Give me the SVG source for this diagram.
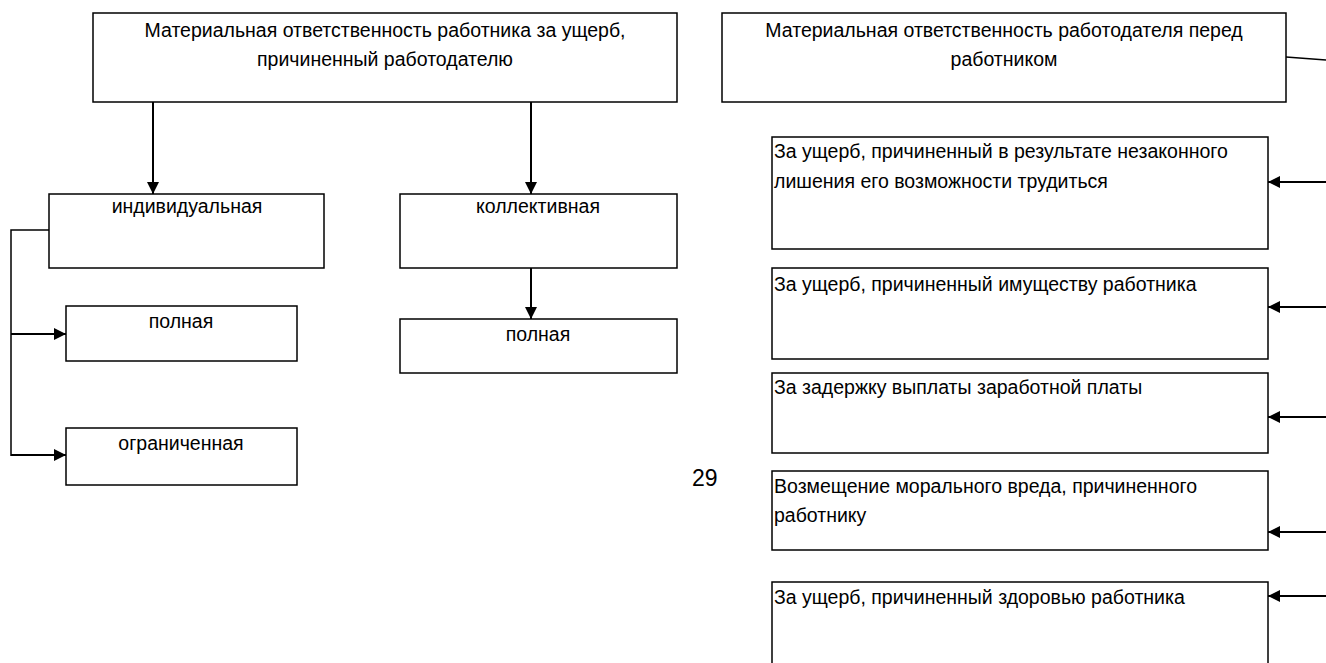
<svg xmlns="http://www.w3.org/2000/svg" width="1326" height="663" viewBox="0 0 1326 663">
<style>
.box{fill:#fff;stroke:#000;stroke-width:1.5}
.t{font-family:"Liberation Sans",Arial,sans-serif;font-size:19.5px;fill:#000}
.c{text-anchor:middle}
.ln{fill:none;stroke:#000;stroke-width:2}
.thin{fill:none;stroke:#000;stroke-width:1.5}
</style>
<defs>
<marker id="ah" viewBox="0 0 10 10" refX="10" refY="5" markerWidth="6" markerHeight="6" markerUnits="strokeWidth" orient="auto">
<path d="M0,0 L10,5 L0,10 Z" fill="#000"/>
</marker>
</defs>
<rect width="1326" height="663" fill="#fff"/>
<g id="connectors">
<line class="ln" x1="153" y1="102" x2="153" y2="194" marker-end="url(#ah)"/>
<line class="ln" x1="531" y1="102" x2="531" y2="194" marker-end="url(#ah)"/>
<polyline class="thin" points="49,230 11,230 11,456"/>
<line class="ln" x1="11" y1="334" x2="66" y2="334" marker-end="url(#ah)"/>
<line class="ln" x1="11" y1="455" x2="66" y2="455" marker-end="url(#ah)"/>
<line class="ln" x1="531" y1="268" x2="531" y2="319" marker-end="url(#ah)"/>
<line class="thin" x1="1286" y1="57" x2="1326" y2="60"/>
<line class="ln" x1="1326" y1="182" x2="1268" y2="182" marker-end="url(#ah)"/>
<line class="ln" x1="1326" y1="307" x2="1268" y2="307" marker-end="url(#ah)"/>
<line class="ln" x1="1326" y1="417" x2="1268" y2="417" marker-end="url(#ah)"/>
<line class="ln" x1="1326" y1="532" x2="1268" y2="532" marker-end="url(#ah)"/>
<line class="ln" x1="1326" y1="596" x2="1268" y2="596" marker-end="url(#ah)"/>
</g>
<g id="n-worker">
<rect class="box" x="93" y="13" width="584" height="89"/>
<text class="t c" x="385" y="37">Материальная ответственность работника за ущерб,</text>
<text class="t c" x="385" y="66">причиненный работодателю</text>
</g>
<g id="n-individual">
<rect class="box" x="49" y="194" width="275" height="74"/>
<text class="t c" x="187" y="213">индивидуальная</text>
</g>
<g id="n-collective">
<rect class="box" x="400" y="194" width="277" height="74"/>
<text class="t c" x="538" y="213">коллективная</text>
</g>
<g id="n-full-ind">
<rect class="box" x="66" y="306" width="231" height="55"/>
<text class="t c" x="181" y="328">полная</text>
</g>
<g id="n-limited">
<rect class="box" x="66" y="428" width="231" height="57"/>
<text class="t c" x="181" y="450">ограниченная</text>
</g>
<g id="n-full-col">
<rect class="box" x="400" y="319" width="277" height="54"/>
<text class="t c" x="538" y="341">полная</text>
</g>
<g id="n-page">
<text class="t" x="692" y="486" style="font-size:23px">29</text>
</g>
<g id="n-employer">
<rect class="box" x="722" y="13" width="564" height="89"/>
<text class="t c" x="1004" y="37">Материальная ответственность работодателя перед</text>
<text class="t c" x="1004" y="66">работником</text>
</g>
<g id="n-r1">
<rect class="box" x="772" y="137" width="496" height="112"/>
<text class="t" x="774" y="158">За ущерб, причиненный в результате незаконного</text>
<text class="t" x="774" y="188">лишения его возможности трудиться</text>
</g>
<g id="n-r2">
<rect class="box" x="772" y="268" width="496" height="91"/>
<text class="t" x="774" y="291">За ущерб, причиненный имуществу работника</text>
</g>
<g id="n-r3">
<rect class="box" x="772" y="373" width="496" height="80"/>
<text class="t" x="774" y="394">За задержку выплаты заработной платы</text>
</g>
<g id="n-r4">
<rect class="box" x="772" y="471" width="496" height="79"/>
<text class="t" x="774" y="493">Возмещение морального вреда, причиненного</text>
<text class="t" x="774" y="522">работнику</text>
</g>
<g id="n-r5">
<rect class="box" x="772" y="582" width="496" height="84"/>
<text class="t" x="774" y="604">За ущерб, причиненный здоровью работника</text>
</g>
</svg>
